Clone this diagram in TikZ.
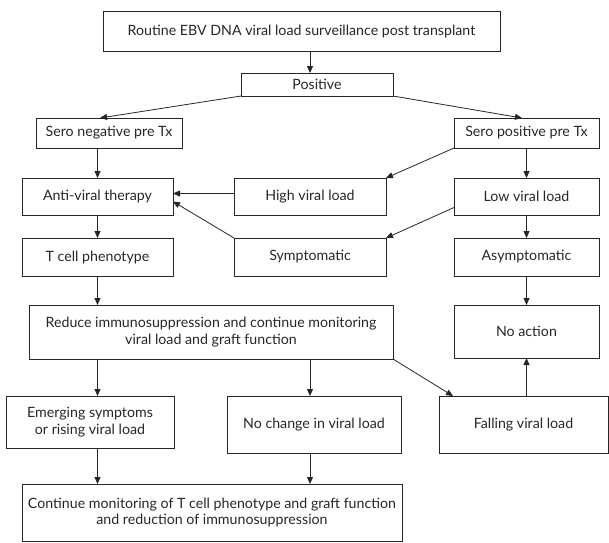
\documentclass[tikz,border=0pt]{standalone}
\usepackage{fontspec}
\setmainfont{Lato}
\usetikzlibrary{arrows.meta,calc}
\begin{document}
\begin{tikzpicture}[x=1pt,y=-1pt,
  box/.style={draw=black!85, line width=0.8pt, rectangle, inner sep=0pt, outer sep=0pt,
    align=center, font=\fontsize{14.2}{16.5}\selectfont, text=black!85},
  arr/.style={draw=black!85, line width=0.8pt, -{Triangle[length=7pt,width=6pt]}}]
\useasboundingbox (0,0) rectangle (609,542);
\newcommand\bx[6]{\node[box, minimum width={(#4-#2)*1pt}, minimum height={(#5-#3)*1pt}] (#1) at ({(#2+#4)/2},{(#3+#5)/2}) {#6};}
\bx{top}{103}{11}{500}{51}{Routine EBV DNA viral load surveillance post transplant}
\bx{pos}{241}{73}{393}{96}{Positive}
\bx{sneg}{36}{118}{182}{148}{Sero negative pre Tx}
\bx{spos}{454}{118}{599}{148}{Sero positive pre Tx}
\bx{anti}{22}{178}{173}{215}{Anti-viral therapy}
\bx{high}{234}{178}{386}{215}{High viral load}
\bx{low}{454}{178}{599}{215}{Low viral load}
\bx{tcell}{22}{238}{173}{276}{T cell phenotype}
\bx{symp}{234}{238}{386}{276}{Symptomatic}
\bx{asym}{454}{238}{599}{276}{Asymptomatic}
\bx{red}{29}{305}{393}{359}{Reduce immunosuppression and continue monitoring\\viral load and graft function}
\bx{noact}{454}{305}{599}{358}{No action}
\bx{emer}{6}{396}{174}{448}{Emerging symptoms\\or rising viral load}
\bx{nochg}{227}{396}{401}{453}{No change in viral load}
\bx{fall}{439}{396}{608}{453}{Falling viral load}
\bx{cont}{22}{484}{402}{541}{Continue monitoring of T cell phenotype and graft function\\and reduction of immunosuppression}
\coordinate (cx310) at (310,0);
\coordinate (cx100) at (100,0);
\coordinate (cx522) at (522,0);
\coordinate (cx453) at (453,0);
\draw[arr] (top.south -| cx310) -- (pos.north -| cx310);
\draw[arr] (pos.south west) -- (sneg.north -| cx100);
\draw[arr] (pos.south east) -- (spos.north -| cx522);
\draw[arr] (sneg.south -| anti) -- (anti.north);
\draw[arr] (anti.south) -- (tcell.north);
\draw[arr] (tcell.south) -- (red.north -| tcell);
\draw[arr] ($(high.west)+(0,-3)$) -- ($(anti.east)+(0,-3)$);
\draw[arr] (symp.north west) -- ($(anti.east)+(0,5)$);
\draw[arr] (spos.south west) -- (high.north east);
\draw[arr] (spos.south) -- (low.north);
\draw[arr] ($(low.west)+(0,11)$) -- (symp.north east);
\draw[arr] (low.south) -- (asym.north);
\draw[arr] (asym.south) -- (noact.north);
\draw[arr] (fall.north -| noact) -- (noact.south);
\draw[arr] (red.south -| tcell) -- (emer.north -| tcell);
\draw[arr] (red.south -| cx310) -- (nochg.north -| cx310);
\draw[arr] (red.south east) -- (fall.north -| cx453);
\draw[arr] (emer.south -| tcell) -- (cont.north -| tcell);
\draw[arr] (nochg.south -| cx310) -- (cont.north -| cx310);
\end{tikzpicture}
\end{document}
